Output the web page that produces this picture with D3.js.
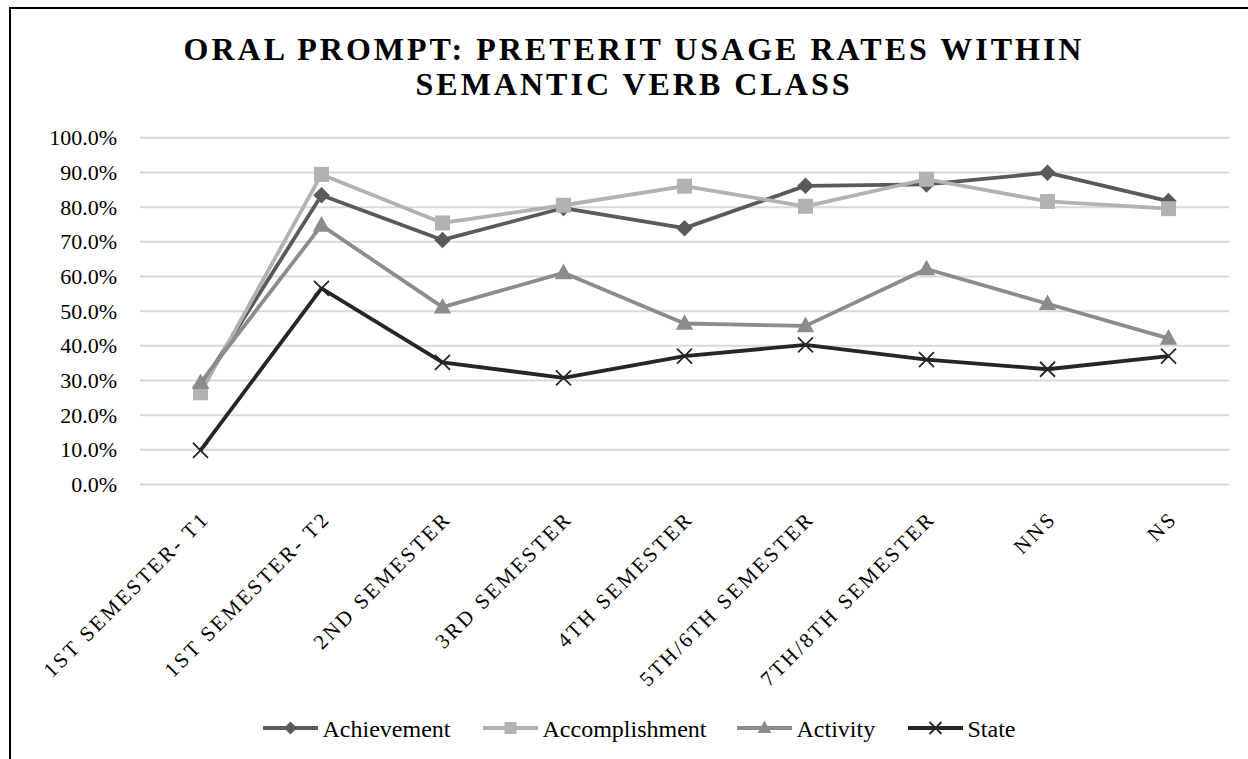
<!DOCTYPE html>
<html><head><meta charset="utf-8">
<script src="https://cdn.jsdelivr.net/npm/d3@7"></script>
<style>body{margin:0;background:#fff}svg{display:block}</style>
</head><body>
<svg id="c" width="1248" height="759"></svg>
<script>
const categories = ["1ST SEMESTER- T1","1ST SEMESTER- T2","2ND SEMESTER","3RD SEMESTER","4TH SEMESTER","5TH/6TH SEMESTER","7TH/8TH SEMESTER","NNS","NS"];
const achievement = [28.0, 83.3, 70.4, 79.6, 73.8, 86.0, 86.4, 89.8, 81.6];
const accomplishment = [26.3, 89.3, 75.3, 80.4, 85.9, 80.1, 87.9, 81.5, 79.4];
const activity = [29.2, 74.6, 51.0, 60.9, 46.3, 45.6, 62.0, 52.0, 42.0];
const state = [9.7, 56.4, 35.1, 30.6, 36.9, 40.1, 35.9, 33.1, 36.9];
const seriesNames = ["Achievement","Accomplishment","Activity","State"];
const yTicks = [0,10,20,30,40,50,60,70,80,90,100];
const titleLines = ["ORAL PROMPT: PRETERIT USAGE RATES WITHIN","SEMANTIC VERB CLASS"];

const series = [
  {name: seriesNames[0], values: achievement, color: "#5a5a5a", marker: "diamond"},
  {name: seriesNames[1], values: accomplishment, color: "#b2b2b2", marker: "square"},
  {name: seriesNames[2], values: activity, color: "#8c8c8c", marker: "triangle"},
  {name: seriesNames[3], values: state, color: "#262626", marker: "x"}
];

const svg = d3.select("#c");
const font = "'Liberation Serif','Times New Roman',serif";

svg.append("rect").attr("x",10).attr("y",8).attr("width",1260).attr("height",780)
  .attr("fill","#fff").attr("stroke","#000").attr("stroke-width",2);

const pL = 140, pR = 1229, pT = 137.3, pB = 484;
const x = d3.scaleBand().domain(categories).range([pL,pR]);
const y = d3.scaleLinear().domain([0,100]).range([pB, pT]);
const cx = c => x(c) + x.bandwidth()/2;

// title
svg.append("g").selectAll("text").data(titleLines).join("text")
  .attr("x", 634).attr("y",(d,i)=>60+i*35)
  .attr("text-anchor","middle").attr("font-family",font).attr("font-weight","bold")
  .attr("font-size",32).attr("letter-spacing",3).attr("fill","#000").text(d=>d);

// grid
const yAxis = d3.axisLeft(y).tickValues(yTicks).tickSize(-(pR-pL)).tickFormat(d=>d3.format(".1f")(d)+"%");
const ga = svg.append("g").attr("transform",`translate(${pL},0)`).call(yAxis);
ga.select(".domain").remove();
ga.selectAll(".tick line").attr("stroke","#d9d9d9").attr("stroke-width",2);
ga.selectAll(".tick text").attr("x",-23).attr("dy","0.34em").attr("font-family",font).attr("font-size",22).attr("fill","#000");

// x labels
const xAxis = d3.axisBottom(x).tickSize(0);
const gx = svg.append("g").attr("transform",`translate(0,${pB})`).call(xAxis);
gx.select(".domain").remove();
gx.selectAll(".tick text")
  .attr("font-family",font).attr("font-size",21).attr("fill","#000").attr("letter-spacing",2.6)
  .attr("text-anchor","end").attr("dy",0).attr("y",0)
  .attr("transform","translate(10,36) rotate(-45)");

// lines
const line = d3.line().x((d,i)=>cx(categories[i])).y(d=>y(d));
function marker(g, type, color, s){
  const h = s/2;
  if(type==="diamond") g.append("path").attr("d",`M0,${-h*1.1}L${h*1.1},0L0,${h*1.1}L${-h*1.1},0Z`).attr("fill",color);
  else if(type==="square") g.append("rect").attr("x",-h).attr("y",-h).attr("width",s).attr("height",s).attr("fill",color);
  else if(type==="triangle") g.append("path").attr("d",`M0,${-s*0.62}L${s*0.58},${s*0.42}L${-s*0.58},${s*0.42}Z`).attr("fill",color);
  else g.append("path").attr("d",`M${-h},${-h}L${h},${h}M${h},${-h}L${-h},${h}`).attr("stroke",color).attr("stroke-width",1.8);
}
series.forEach(s=>{
  const g = svg.append("g");
  g.append("path").attr("d",line(s.values)).attr("fill","none").attr("stroke",s.color).attr("stroke-width",3.8).attr("stroke-linejoin","round");
  s.values.forEach((v,i)=>{
    const m = g.append("g").attr("transform",`translate(${cx(categories[i])},${y(v)})`);
    marker(m, s.marker, s.color, 15);
  });
});

// legend
const legX = [263, 483, 737, 908];
const lg = svg.append("g");
series.forEach((s,i)=>{
  const g = lg.append("g").attr("transform",`translate(${legX[i]},728)`);
  g.append("line").attr("x1",0).attr("x2",55).attr("stroke",s.color).attr("stroke-width",3.8);
  const m = g.append("g").attr("transform","translate(27.5,0)");
  marker(m, s.marker, s.color, 12);
  g.append("text").attr("x",59.5).attr("y",8.5).attr("font-family",font).attr("font-size",24).attr("fill","#000").text(s.name);
});
</script>
</body></html>
